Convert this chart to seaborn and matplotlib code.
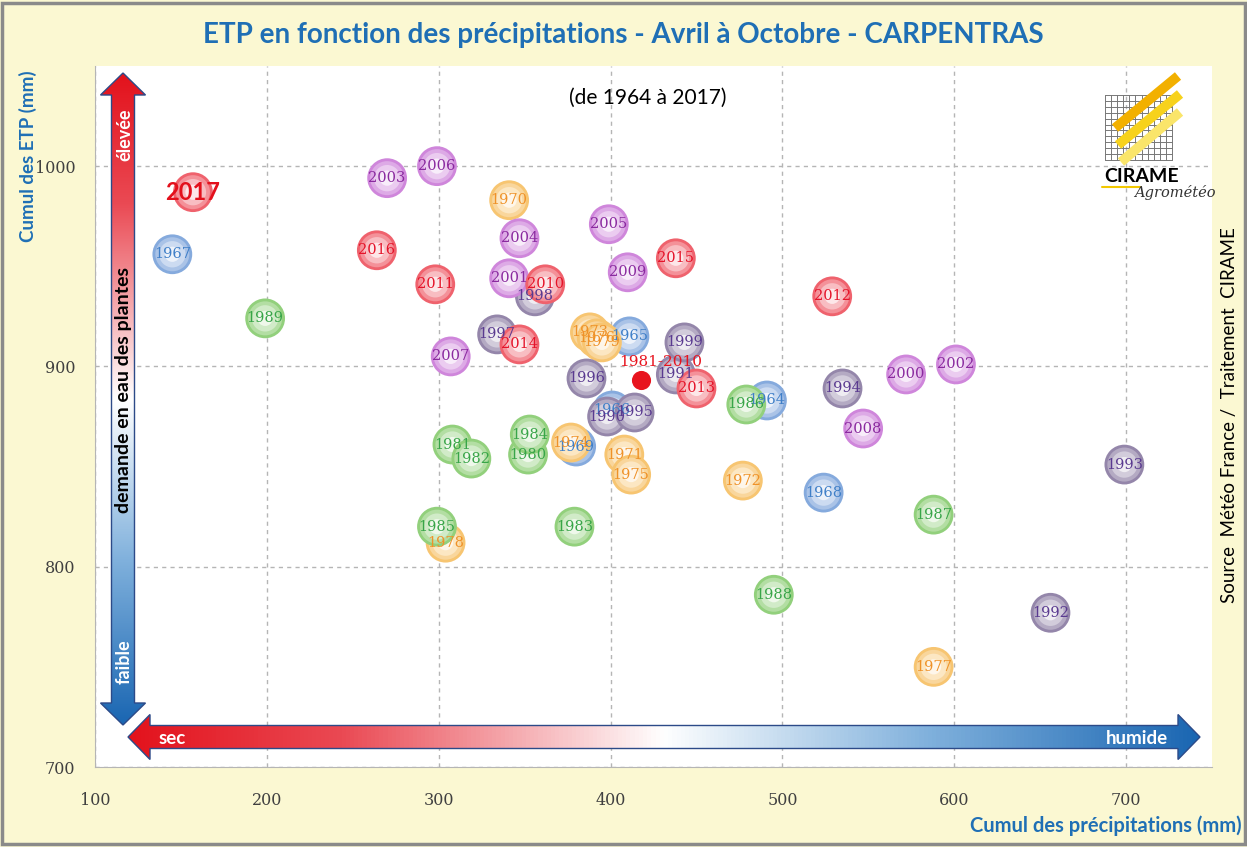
import numpy as np
import pandas as pd
import matplotlib
matplotlib.use("Agg")
import matplotlib.pyplot as plt
import seaborn as sns
from matplotlib.colors import LinearSegmentedColormap, to_rgb
from matplotlib.patches import Polygon, Rectangle

# ---------------- data ----------------
years = list(range(1964, 2018))
precip = [491, 411, 401, 145, 524, 380, 341, 408, 477, 388,
          377, 412, 392, 588, 304, 395, 352, 308, 319, 379,
          353, 299, 479, 588, 495, 199, 398, 438, 656, 699,
          535, 414, 386, 334, 356, 443, 572, 341, 601, 270,
          347, 399, 299, 307, 547, 410, 362, 298, 529, 450,
          347, 438, 264, 157]
etp = [883, 915, 878, 956, 837, 860, 983, 856, 843, 917,
       862, 846, 914, 750, 812, 912, 856, 861, 854, 820,
       866, 820, 881, 826, 786, 924, 875, 896, 777, 851,
       889, 877, 894, 916, 935, 912, 896, 944, 901, 994,
       964, 971, 1000, 905, 869, 947, 941, 941, 935, 889,
       911, 954, 958, 987]
ref_label = "1981-2010"
ref_precip = 418
ref_etp = 893
highlight_year = 2017

x_ticks = [100, 200, 300, 400, 500, 600, 700]
y_ticks = [700, 800, 900, 1000]

title = "ETP en fonction des précipitations - Avril à Octobre - CARPENTRAS"
subtitle = "(de 1964 à 2017)"
x_label = "Cumul des précipitations (mm)"
y_label = "Cumul des ETP (mm)"
source = "Source  Météo France /  Traitement  CIRAME"

# ---------------- style ----------------
BG = "#fbf8d2"
BLUE = "#1f6fb5"
bubble_col = {"1960": "#85aadd", "1970": "#f7c571", "1980": "#92d07c",
              "1990": "#9486aa", "2000": "#cf86db", "2010": "#ef626d"}
text_col = {"1960": "#3f7fc8", "1970": "#ef9228", "1980": "#38a548",
            "1990": "#5a3a90", "2000": "#8a2a9f", "2010": "#e5142a"}

sns.set_style("white")
plt.rcParams["font.family"] = ["Lato", "DejaVu Sans"]

W, H = 1247, 847
fig = plt.figure(figsize=(W / 100, H / 100), dpi=100, facecolor=BG)

# main axes (pixel box: x 95..1212, y 66..767)
ax = fig.add_axes([95 / W, 1 - 767 / H, 1117 / W, 701 / H])
ax.set_facecolor("white")

df = pd.DataFrame({"annee": years, "precip": precip, "etp": etp})
df["decennie"] = (df["annee"] // 10 * 10).astype(str)


def mix(c, f):
    return tuple(np.array(to_rgb(c)) * (1 - f) + f)


layers = {0: (820, 0.0), 1: (600, 0.3), 2: (360, 0.58), 3: (120, 0.85)}
rows = []
for _, r in df.iterrows():
    for L in layers:
        rows.append({"precip": r.precip, "etp": r.etp,
                     "key": f"{r.decennie}_{L}", "layer": L})
long = pd.DataFrame(rows)
pal = {f"{d}_{L}": mix(c, layers[L][1]) for d, c in bubble_col.items() for L in layers}
sizes = {L: layers[L][0] for L in layers}

sns.scatterplot(data=long, x="precip", y="etp", hue="key", palette=pal,
                size="layer", sizes=sizes, linewidth=0, legend=False,
                ax=ax, zorder=3)

for _, r in df.iterrows():
    if r.annee == highlight_year:
        ax.text(r.precip, r.etp, str(r.annee), ha="center", va="center",
                fontsize=17, fontweight="bold", color="#e3101c", zorder=5)
    else:
        ax.text(r.precip, r.etp, str(r.annee), ha="center", va="center",
                fontsize=10.5, family="DejaVu Serif", color=text_col[r.decennie],
                zorder=5)

sns.scatterplot(x=[ref_precip], y=[ref_etp], color="#e8141e", s=190,
                linewidth=0, legend=False, ax=ax, zorder=6)
ax.annotate(ref_label, (ref_precip, ref_etp), xytext=(14, 13),
            textcoords="offset points", ha="center", va="center",
            fontsize=11, family="DejaVu Serif", color="#e8141e", zorder=6)

ax.set_xlim(100, 750)
ax.set_ylim(700, 1050)
ax.set_xticks(x_ticks)
ax.set_yticks(y_ticks)
ax.set_xlabel("")
ax.set_ylabel("")
ax.grid(True, ls=(0, (3, 3)), color="#b5b5b5", lw=1)
for s in ["top", "right"]:
    ax.spines[s].set_visible(False)
for s in ["left", "bottom"]:
    ax.spines[s].set_color("#b5b5b5")
ax.tick_params(axis="both", direction="out", length=4, color="#b5b5b5",
               labelcolor="#404040", labelsize=11.5)
ax.tick_params(axis="x", pad=14)
ax.tick_params(axis="y", pad=10)
for lab in ax.get_xticklabels() + ax.get_yticklabels():
    lab.set_family("DejaVu Serif")

# ---------------- overlay (pixel coordinates) ----------------
ov = fig.add_axes([0, 0, 1, 1], zorder=10)
ov.set_xlim(0, W)
ov.set_ylim(H, 0)
ov.axis("off")
ov.patch.set_alpha(0)

cmap = LinearSegmentedColormap.from_list(
    "rb", [(0.0, "#e3121c"), (0.2, "#ea4a54"), (0.5, "#ffffff"),
           (0.75, "#7fb0dc"), (1.0, "#1a66b2")])
grad = np.linspace(0, 1, 256)

# vertical arrow
cx, hw, hh = 123, 11.5, 22.5
y_top, y_hb1, y_hb2, y_bot = 73, 95, 703, 725
vpts = [(cx, y_top), (cx + hh, y_hb1), (cx + hw, y_hb1), (cx + hw, y_hb2),
        (cx + hh, y_hb2), (cx, y_bot), (cx - hh, y_hb2), (cx - hw, y_hb2),
        (cx - hw, y_hb1), (cx - hh, y_hb1)]
vpoly = Polygon(vpts, closed=True, facecolor="none", edgecolor="#2c4a88", lw=1, zorder=3)
ov.add_patch(vpoly)
im = ov.imshow(grad.reshape(-1, 1), cmap=cmap, aspect="auto", origin="upper",
               extent=(cx - hh, cx + hh, y_bot, y_top), zorder=2)
im.set_clip_path(vpoly)

# horizontal arrow
cy = 737
x_l, x_hb1, x_hb2, x_r = 128, 150, 1178, 1200
hpts = [(x_l, cy), (x_hb1, cy - hh), (x_hb1, cy - hw), (x_hb2, cy - hw),
        (x_hb2, cy - hh), (x_r, cy), (x_hb2, cy + hh), (x_hb2, cy + hw),
        (x_hb1, cy + hw), (x_hb1, cy + hh)]
hpoly = Polygon(hpts, closed=True, facecolor="none", edgecolor="#2c4a88", lw=1, zorder=3)
ov.add_patch(hpoly)
im2 = ov.imshow(grad.reshape(1, -1), cmap=cmap, aspect="auto", origin="upper",
                extent=(x_l, x_r, cy + hh, cy - hh), zorder=2)
im2.set_clip_path(hpoly)
ov.set_xlim(0, W)
ov.set_ylim(H, 0)

ov.text(125, 135, "élevée", rotation=90, ha="center", va="center",
        color="white", fontsize=13, fontweight="bold", zorder=4)
ov.text(124, 662, "faible", rotation=90, ha="center", va="center",
        color="white", fontsize=13, fontweight="bold", zorder=4)
ov.text(124, 390, "demande en eau des plantes", rotation=90, ha="center",
        va="center", color="black", fontsize=14, fontweight="bold", zorder=4)
ov.text(172, 738, "sec", ha="center", va="center", color="white",
        fontsize=13.5, fontweight="bold", zorder=4)
ov.text(1137, 738, "humide", ha="center", va="center", color="white",
        fontsize=13.5, fontweight="bold", zorder=4)

# titles & labels
ov.text(623, 35, title, ha="center", va="center", color=BLUE,
        fontsize=20, fontweight="bold")
ov.text(648, 98, subtitle, ha="center", va="center", color="black", fontsize=15)
ov.text(28, 156, y_label, rotation=90, ha="center", va="center",
        color=BLUE, fontsize=13.5, fontweight="bold")
ov.text(1242, 826, x_label, ha="right", va="center", color=BLUE,
        fontsize=14.5, fontweight="bold")
ov.text(1230, 415, source, rotation=90, ha="center", va="center",
        color="black", fontsize=13.5)

# logo
for gx in np.linspace(1105, 1172, 12):
    ov.plot([gx, gx], [95, 160], color="#777777", lw=0.7, zorder=5)
for gy in np.linspace(95, 160, 12):
    ov.plot([1105, 1172], [gy, gy], color="#777777", lw=0.7, zorder=5)
for (p0, p1, col) in [((1115, 128), (1178, 76), "#f2b000"),
                      ((1118, 145), (1180, 94), "#f7d21c"),
                      ((1121, 162), (1180, 112), "#fae56a")]:
    ov.plot([p0[0], p1[0]], [p0[1], p1[1]], color=col, lw=7,
            solid_capstyle="butt", zorder=6)
ov.text(1104, 177, "CIRAME", ha="left", va="center", fontsize=14,
        fontweight="bold", color="black", zorder=6)
ov.plot([1102, 1140], [187, 187], color="#f2c800", lw=1.5, zorder=6)
ov.text(1134, 193, "Agrométéo", ha="left", va="center", fontsize=10.5,
        style="italic", family="DejaVu Serif", color="#333333", zorder=6)

# figure border
fig.patches.append(Rectangle((0.002, 0.003), 0.996, 0.994, transform=fig.transFigure,
                             fill=False, edgecolor="#8a8a8a", lw=2.5))

fig.savefig("out.png", dpi=100, facecolor=BG)
